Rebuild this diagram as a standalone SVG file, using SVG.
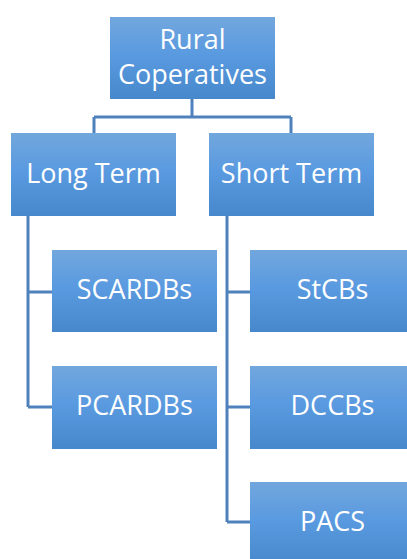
<svg xmlns="http://www.w3.org/2000/svg" width="407" height="559" viewBox="0 0 407 559">
  <defs>
    <linearGradient id="boxFill" x1="0" y1="0" x2="0" y2="1">
      <stop offset="0" stop-color="#72a7dd"/>
      <stop offset="0.45" stop-color="#5a9ae0"/>
      <stop offset="1" stop-color="#4787cb"/>
    </linearGradient>
  </defs>
  <style>
    .box { fill: url(#boxFill); }
    .lbl { font-family: "Open Sans", "Liberation Sans", sans-serif; font-size: 27px; fill: #ffffff; text-anchor: middle; }
    .conn { fill: none; stroke: #4f81bd; stroke-width: 3; }
  </style>
  <rect width="407" height="559" fill="#ffffff"/>

  <g id="connectors">
    <path class="conn" d="M192,99 V117 M94,117 H291 M94,117 V133 M291,117 V133"/>
    <path class="conn" d="M28,216 V407 M28,292 H52 M28,407 H52"/>
    <path class="conn" d="M227,216 V522 M227,292 H250 M227,407 H250 M227,522 H250"/>
  </g>

  <g id="rural-coperatives">
    <rect class="box" x="110" y="17" width="165" height="82"/>
    <text class="lbl" x="192.5" y="49">Rural</text>
    <text class="lbl" x="192.5" y="84">Coperatives</text>
  </g>
  <g id="long-term">
    <rect class="box" x="11" y="133" width="165" height="83"/>
    <text class="lbl" x="93.5" y="183">Long Term</text>
  </g>
  <g id="short-term">
    <rect class="box" x="209" y="133" width="165" height="83"/>
    <text class="lbl" x="291.5" y="183">Short Term</text>
  </g>
  <g id="scardbs">
    <rect class="box" x="52" y="250" width="165" height="82"/>
    <text class="lbl" x="134.5" y="299">SCARDBs</text>
  </g>
  <g id="pcardbs">
    <rect class="box" x="52" y="366" width="165" height="83"/>
    <text class="lbl" x="134.5" y="415">PCARDBs</text>
  </g>
  <g id="stcbs">
    <rect class="box" x="250" y="250" width="165" height="82"/>
    <text class="lbl" x="332.5" y="299">StCBs</text>
  </g>
  <g id="dccbs">
    <rect class="box" x="250" y="366" width="165" height="83"/>
    <text class="lbl" x="332.5" y="415">DCCBs</text>
  </g>
  <g id="pacs">
    <rect class="box" x="250" y="482" width="165" height="83"/>
    <text class="lbl" x="332.5" y="531">PACS</text>
  </g>
</svg>
